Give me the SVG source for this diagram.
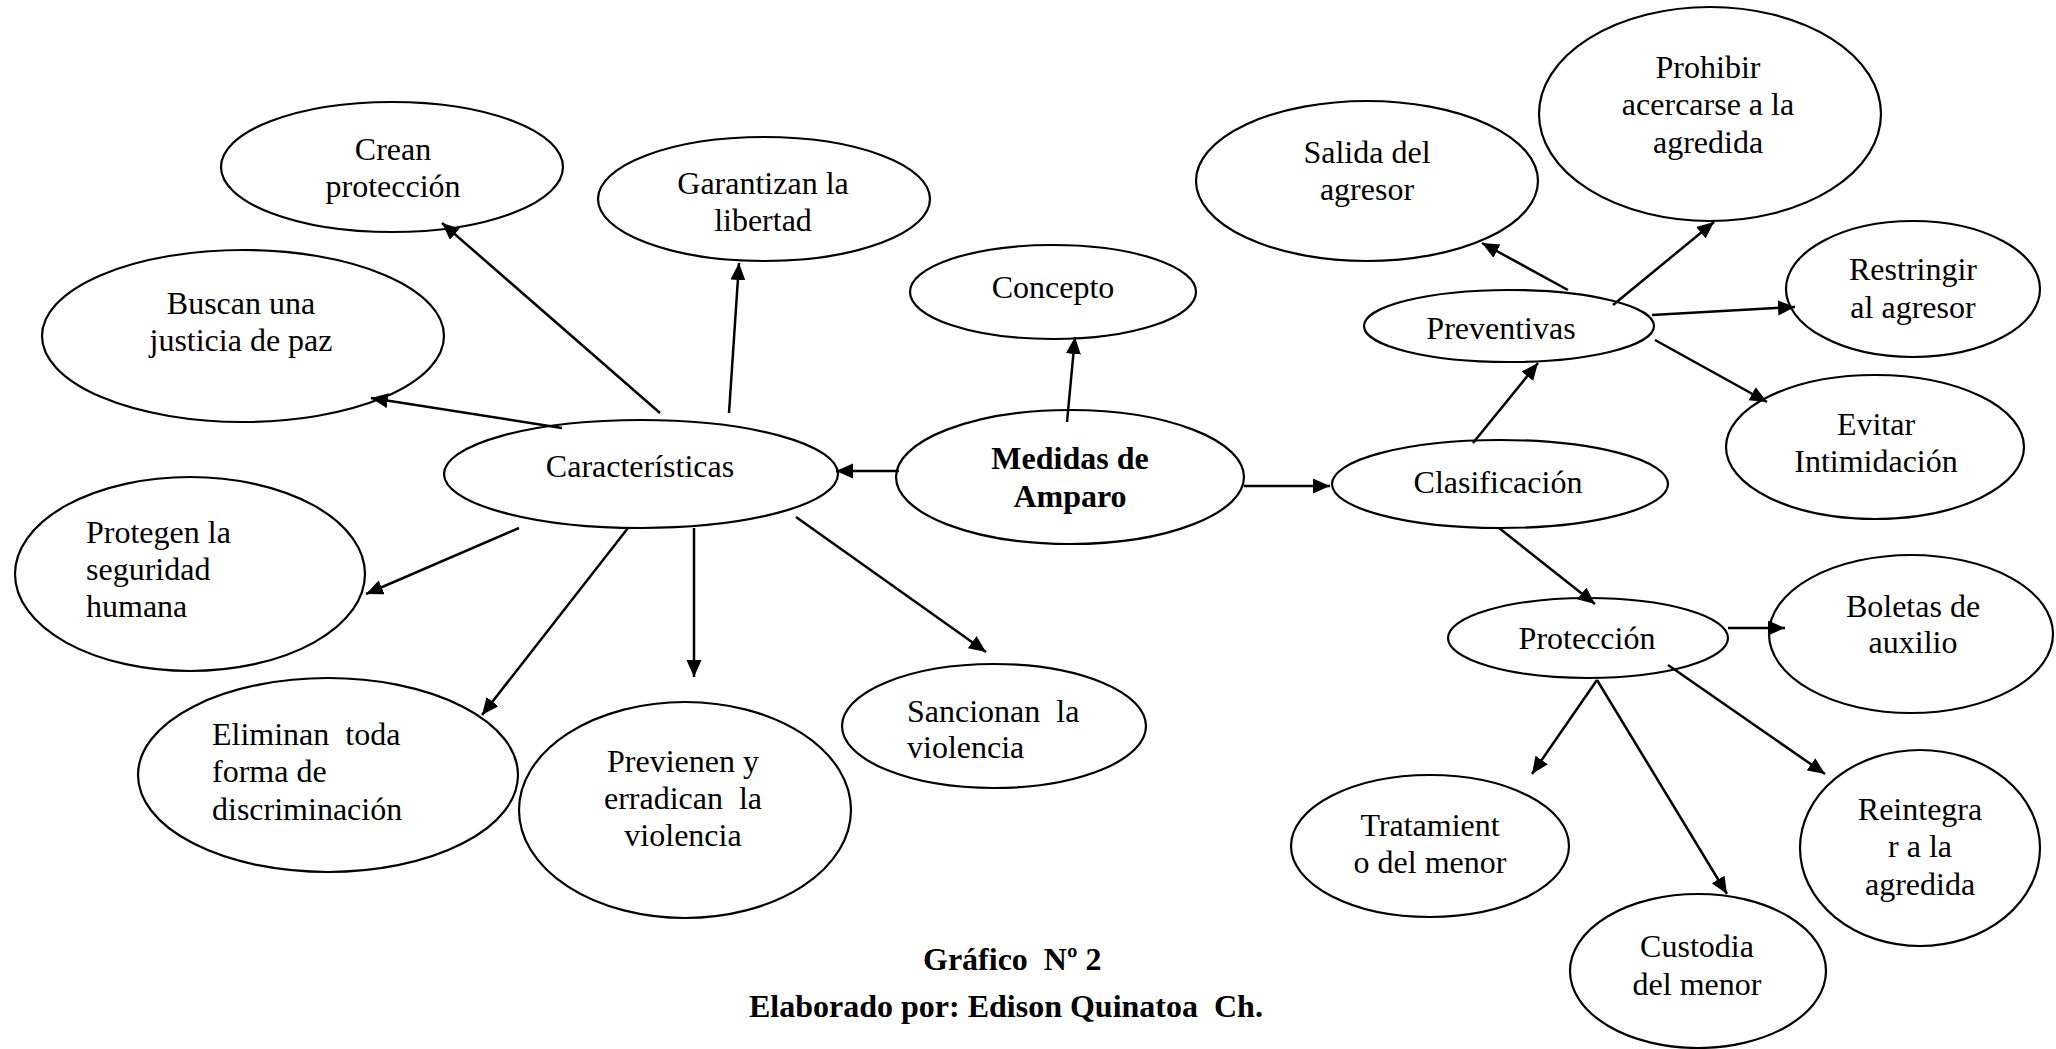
<svg xmlns="http://www.w3.org/2000/svg" width="2056" height="1049" viewBox="0 0 2056 1049">
<defs>
<marker id="ah" markerUnits="userSpaceOnUse" markerWidth="18" markerHeight="16" refX="17" refY="7.5" orient="auto">
<path d="M0,0 L17,7.5 L0,15 z" fill="#000"/>
</marker>
</defs>
<style>
ellipse{fill:#fff;stroke:#000;stroke-width:2.2}
text{font-family:"Liberation Serif","Times New Roman",serif;font-size:32px;fill:#000;white-space:pre}
.c{text-anchor:middle}
.b{font-weight:bold}
#connectors line{stroke:#000;stroke-width:2.5;marker-end:url(#ah)}
</style>
<rect width="2056" height="1049" fill="#fff"/>
<g id="n-crean"><ellipse cx="392" cy="167" rx="171" ry="65"/><text class="c" x="393" y="160">Crean</text><text class="c" x="393" y="197">protección</text></g>
<g id="n-buscan"><ellipse cx="243" cy="336" rx="201" ry="86"/><text class="c" x="241" y="314">Buscan una</text><text class="c" x="241" y="351">justicia de paz</text></g>
<g id="n-garantizan"><ellipse cx="764" cy="199" rx="166" ry="62"/><text class="c" x="763" y="194">Garantizan la</text><text class="c" x="763" y="231">libertad</text></g>
<g id="n-concepto"><ellipse cx="1053" cy="292" rx="143" ry="47"/><text class="c" x="1053" y="298">Concepto</text></g>
<g id="n-medidas"><ellipse cx="1070" cy="477" rx="174" ry="67"/><text class="c b" x="1070" y="469">Medidas de</text><text class="c b" x="1070" y="507">Amparo</text></g>
<g id="n-caracteristicas"><ellipse cx="641" cy="474" rx="197" ry="54"/><text class="c" x="640" y="477">Características</text></g>
<g id="n-protegen"><ellipse cx="190" cy="574" rx="175" ry="97"/><text x="86" y="543">Protegen la</text><text x="86" y="580">seguridad</text><text x="86" y="617">humana</text></g>
<g id="n-eliminan"><ellipse cx="328" cy="775" rx="190" ry="97"/><text x="212" y="745">Eliminan  toda</text><text x="212" y="782">forma de</text><text x="212" y="820">discriminación</text></g>
<g id="n-previenen"><ellipse cx="685" cy="810" rx="166" ry="108"/><text class="c" x="683" y="772">Previenen y</text><text class="c" x="683" y="809">erradican  la</text><text class="c" x="683" y="846">violencia</text></g>
<g id="n-sancionan"><ellipse cx="994" cy="726" rx="152" ry="62"/><text x="907" y="722">Sancionan  la</text><text x="907" y="758">violencia</text></g>
<g id="n-salida"><ellipse cx="1367" cy="181" rx="171" ry="80"/><text class="c" x="1367" y="163">Salida del</text><text class="c" x="1367" y="200">agresor</text></g>
<g id="n-prohibir"><ellipse cx="1710" cy="114" rx="171" ry="107"/><text class="c" x="1708" y="78">Prohibir</text><text class="c" x="1708" y="115">acercarse a la</text><text class="c" x="1708" y="153">agredida</text></g>
<g id="n-restringir"><ellipse cx="1913" cy="289" rx="127" ry="68"/><text class="c" x="1913" y="280">Restringir</text><text class="c" x="1913" y="318">al agresor</text></g>
<g id="n-preventivas"><ellipse cx="1509" cy="326" rx="145" ry="36"/><text class="c" x="1501" y="339">Preventivas</text></g>
<g id="n-evitar"><ellipse cx="1875" cy="447" rx="149" ry="72"/><text class="c" x="1876" y="435">Evitar</text><text class="c" x="1876" y="472">Intimidación</text></g>
<g id="n-clasificacion"><ellipse cx="1500" cy="484" rx="168" ry="44"/><text class="c" x="1498" y="493">Clasificación</text></g>
<g id="n-proteccion"><ellipse cx="1588" cy="638" rx="140" ry="40"/><text class="c" x="1587" y="649">Protección</text></g>
<g id="n-boletas"><ellipse cx="1911" cy="634" rx="142" ry="79"/><text class="c" x="1913" y="617">Boletas de</text><text class="c" x="1913" y="653">auxilio</text></g>
<g id="n-tratamiento"><ellipse cx="1430" cy="846" rx="139" ry="71"/><text class="c" x="1430" y="836">Tratamient</text><text class="c" x="1430" y="873">o del menor</text></g>
<g id="n-custodia"><ellipse cx="1698" cy="971" rx="128" ry="77"/><text class="c" x="1697" y="957">Custodia</text><text class="c" x="1697" y="995">del menor</text></g>
<g id="n-reintegrar"><ellipse cx="1920" cy="848" rx="120" ry="98"/><text class="c" x="1920" y="820">Reintegra</text><text class="c" x="1920" y="857">r a la</text><text class="c" x="1920" y="895">agredida</text></g>
<g id="connectors">
<line x1="1067" y1="422" x2="1075" y2="337"/>
<line x1="1244" y1="486" x2="1330" y2="486"/>
<line x1="899" y1="471" x2="836" y2="471"/>
<line x1="660" y1="413" x2="442" y2="223"/>
<line x1="562" y1="428" x2="371" y2="398"/>
<line x1="729" y1="413" x2="739" y2="263"/>
<line x1="519" y1="528" x2="366" y2="594"/>
<line x1="628" y1="528" x2="482" y2="715"/>
<line x1="694" y1="528" x2="694" y2="677"/>
<line x1="796" y1="517" x2="986" y2="652"/>
<line x1="1473" y1="443" x2="1538" y2="363"/>
<line x1="1568" y1="290" x2="1482" y2="243"/>
<line x1="1613" y1="305" x2="1714" y2="222"/>
<line x1="1652" y1="315" x2="1795" y2="307"/>
<line x1="1655" y1="340" x2="1767" y2="402"/>
<line x1="1499" y1="528" x2="1595" y2="604"/>
<line x1="1728" y1="628" x2="1785" y2="628"/>
<line x1="1597" y1="680" x2="1532" y2="774"/>
<line x1="1597" y1="680" x2="1727" y2="894"/>
<line x1="1668" y1="665" x2="1825" y2="774"/>
</g>
<g id="caption">
<text class="b" x="923" y="970">Gráfico  Nº 2</text>
<text class="b" x="749" y="1017">Elaborado por: Edison Quinatoa  Ch.</text>
</g>
</svg>
